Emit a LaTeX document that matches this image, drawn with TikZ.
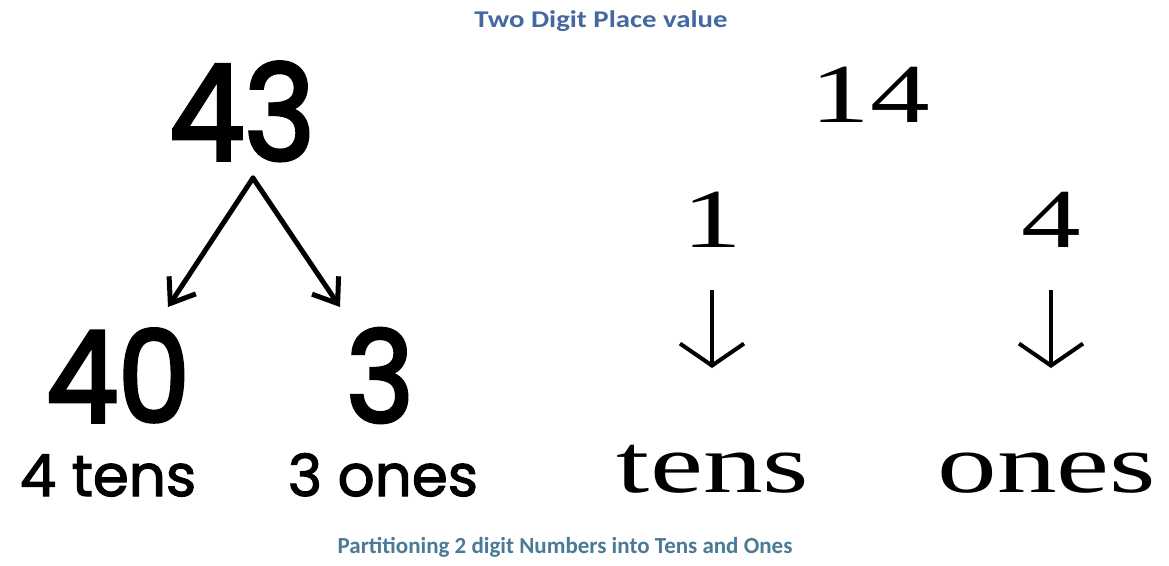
\documentclass[tikz,border=0pt]{standalone}
\usepackage{fontspec}
\usetikzlibrary{arrows.meta}
\newfontfamily\handfont[FakeStretch=0.9,FakeBold=2.8]{Poppins}
\newfontfamily\smallhand[FakeBold=2]{Poppins}
\newfontfamily\capfont{Carlito}
\newfontfamily\titlefont[FakeStretch=1.2]{Carlito}
\newfontfamily\wideserif[FakeStretch=1.42]{Liberation Serif}
\definecolor{titleblue}{RGB}{68,104,160}
\definecolor{capblue}{RGB}{74,122,150}
\tikzset{
  hand/.style={inner sep=0pt, anchor=base},
  serifbig/.style={inner sep=0pt, anchor=base, font=\wideserif\fontsize{84}{90}\selectfont},
  forkarrow/.style={line width=5pt, line cap=round, line join=round,
    -{Straight Barb[length=22pt,width=32pt,line width=5pt]}},
  downarrow/.style={line width=3.5pt,
    -{Straight Barb[length=22pt,width=64pt,line width=4pt]}},
}
\begin{document}
\begin{tikzpicture}[x=1pt,y=-1pt]
\useasboundingbox (0,0) rectangle (1169,565);
\fill[white] (0,0) rectangle (1169,565);

% titles
\node[inner sep=0pt, anchor=base, text=titleblue, font=\titlefont\bfseries\fontsize{24}{28}\selectfont] (title) at (601,27) {Two Digit Place value};
\node[inner sep=0pt, anchor=base, text=capblue, font=\capfont\bfseries\fontsize{23}{27}\selectfont] (caption) at (565,553) {Partitioning 2 digit Numbers into Tens and Ones};

% left part
\node[hand, font=\handfont\fontsize{133}{140}\selectfont] (n43) at (242,160) {43};
\node[hand, font=\handfont\fontsize{127}{134}\selectfont] (n40) at (118,422) {40};
\node[hand, font=\handfont\fontsize{127}{134}\selectfont] (n3) at (380,422) {3};
\node[hand, font=\smallhand\fontsize{58}{62}\selectfont] (l4tens) at (108,496) {4 tens};
\node[hand, font=\smallhand\fontsize{58}{62}\selectfont] (l3ones) at (383,496) {3 ones};

\coordinate (apex) at (253,178);
\coordinate (tipL) at (168,307);
\coordinate (tipR) at (340,307);
\draw[forkarrow] (apex) -- (tipL);
\draw[forkarrow] (apex) -- (tipR);

% right part
\node[serifbig] (n14) at (870,122) {14};
\node[serifbig] (d1) at (712,247) {1};
\node[serifbig] (d4) at (1051,247) {4};
\node[serifbig] (tens) at (713,492) {tens};
\node[serifbig] (ones) at (1047,492) {ones};

\draw[downarrow] ([yshift=-43pt]d1.base) -- ([yshift=-121pt]d1.base);
\draw[downarrow] ([yshift=-43pt]d4.base) -- ([yshift=-121pt]d4.base);
\end{tikzpicture}
\end{document}
